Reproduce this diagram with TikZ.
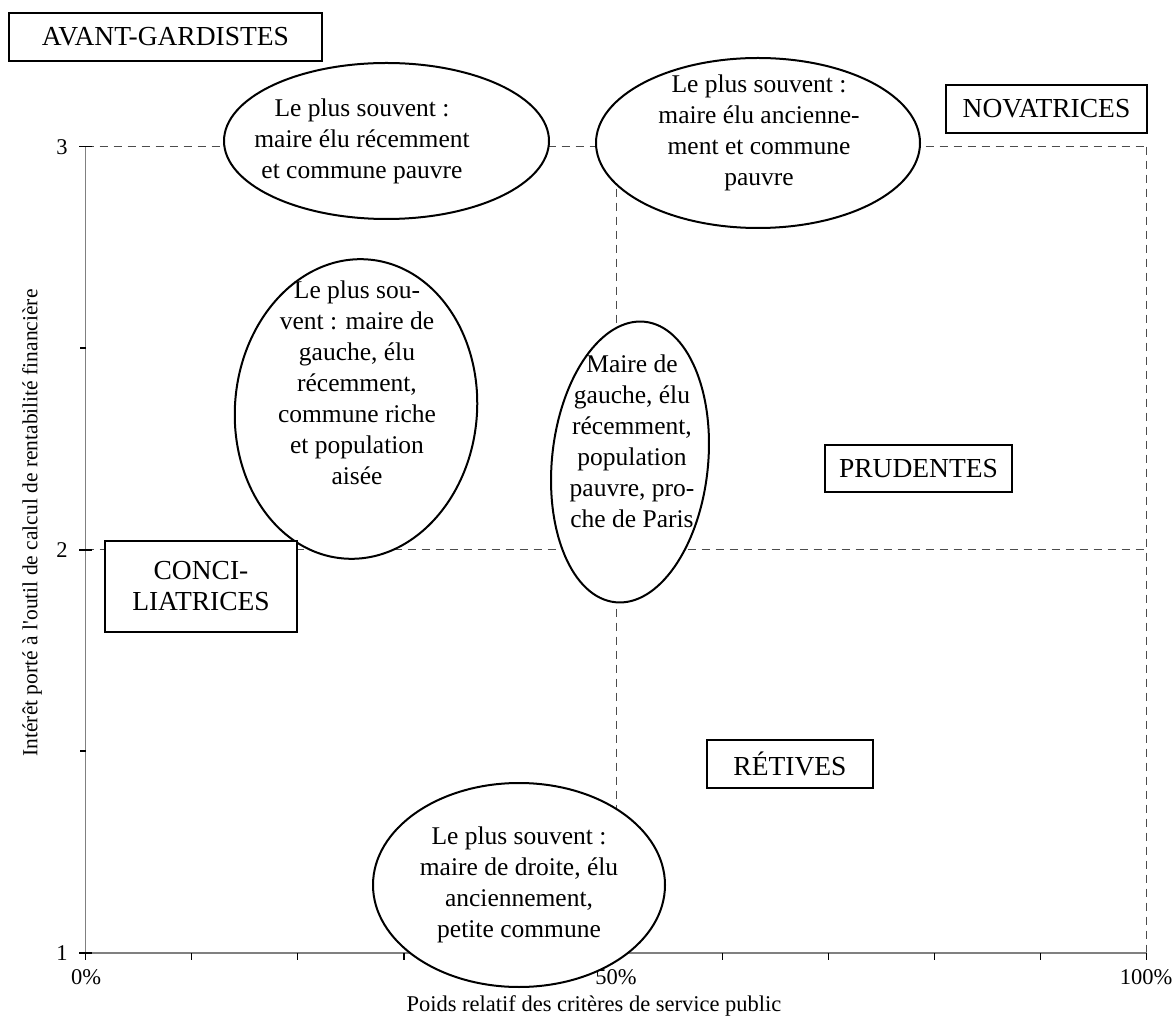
\documentclass[tikz,border=0pt]{standalone}
\usepackage{fontspec}
\setmainfont{Liberation Serif}
\usetikzlibrary{shapes.geometric}
\begin{document}
\begin{tikzpicture}[x=1pt,y=1pt,
  bubble/.style={ellipse, draw=black, line width=2pt, fill=white, inner sep=0pt},
  bubbletext/.style={align=center, font=\fontsize{25.5}{31}\selectfont, inner sep=0pt},
  tag/.style={draw=black, line width=1.8pt, fill=white, inner sep=0pt, align=center, font=\fontsize{27.5}{31}\selectfont},
  guide/.style={draw=black!70, line width=1pt, dash pattern=on 8pt off 6pt},
  axisline/.style={draw=black!50, line width=1.5pt},
  tickmark/.style={draw=black, line width=1.2pt},
  axislabel/.style={font=\fontsize{22.5}{27}\selectfont, inner sep=0pt}
]
\useasboundingbox (0,0) rectangle (1175,1021);

% frame of the plot area
\coordinate (O)  at (85.7,68);
\coordinate (X1) at (1146.5,68);
\coordinate (Y3) at (85.7,874.3);

% dashed quadrant guides
\draw[guide] (85.7,874.3) -- (1146.5,874.3);
\draw[guide] (85.7,471) -- (1146.5,471);
\draw[guide] (616.1,874.3) -- (616.1,68);
\draw[guide] (1146.5,874.3) -- (1146.5,68);

% axes
\draw[axisline] (Y3) -- (O) -- (X1);
\foreach \i in {0,...,10} \draw[tickmark] ({85.7+106.08*\i},68) -- ++(0,-7);
\foreach \y in {68,471,874.3} \draw[tickmark] (79,\y) -- (92,\y);
\foreach \y in {270,673} \draw[tickmark] (80,\y) -- (85.7,\y);

% axis labels
\node[axislabel] (l3) at (62,874.3) {3};
\node[axislabel] (l2) at (62,471) {2};
\node[axislabel] (l1) at (62,68) {1};
\node[axislabel] (p0) at (86,44) {0\%};
\node[axislabel] (p50) at (616,44) {50\%};
\node[axislabel] (p100) at (1146,44) {100\%};
\node[axislabel] (xlab) at (594,15) {Poids relatif des critères de service public};
\node[axislabel, font=\fontsize{21.5}{26}\selectfont, rotate=90] (ylab) at (32,498) {Intérêt porté à l\textquotesingle outil de calcul de rentabilité financière};

% profile bubbles
\node[bubble, minimum width=325pt, minimum height=156pt] (e1) at (386.5,880) {};
\node[bubbletext] (t1) at (362,880) {Le plus souvent :\\maire élu récemment\\et commune pauvre};

\node[bubble, minimum width=324pt, minimum height=170pt] (e2) at (758,878) {};
\node[bubbletext] (t2) at (759,888) {Le plus souvent :\\maire élu ancienne-\\ment et commune\\pauvre};

\node[bubble, minimum width=242pt, minimum height=300pt, rotate=-5] (e3) at (356,612) {};
\node[bubbletext] (t3) at (357,638) {Le plus sou-\\vent : maire de\\gauche, élu\\récemment,\\commune riche\\et population\\aisée};

\node[bubble, minimum width=156pt, minimum height=282pt, rotate=-6] (e4) at (630,559) {};
\node[bubbletext] (t4) at (632,580) {Maire de\\gauche, élu\\récemment,\\population\\pauvre, pro-\\che de Paris};

\node[bubble, minimum width=292pt, minimum height=204pt] (e5) at (519,136) {};
\node[bubbletext] (t5) at (519,136) {Le plus souvent :\\maire de droite, élu\\anciennement,\\petite commune};

% category labels
\node[tag, minimum width=313pt, minimum height=48pt] (avant) at (165.5,984) {AVANT-GARDISTES};
\node[tag, minimum width=201pt, minimum height=48pt] (nova) at (1046.5,912) {NOVATRICES};
\node[tag, minimum width=187pt, minimum height=47pt] (prud) at (918.5,552.5) {PRUDENTES};
\node[tag, minimum width=192pt, minimum height=91pt] (conc) at (201,434.5) {CONCI-\\LIATRICES};
\node[tag, minimum width=166pt, minimum height=48pt] (reti) at (790,257) {RÉTIVES};
\end{tikzpicture}
\end{document}
